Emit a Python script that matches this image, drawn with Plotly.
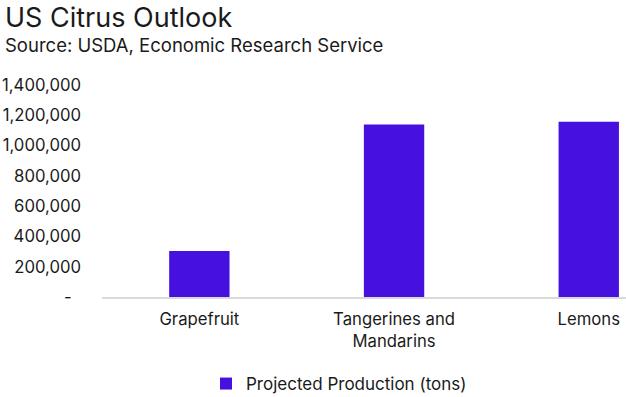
import plotly.graph_objects as go

categories = ["Grapefruit", "Tangerines and<br>Mandarins", "Lemons"]
production = [303000, 1139000, 1157000]
series_name = "Projected Production (tons)"
tick_values = [0, 200000, 400000, 600000, 800000, 1000000, 1200000, 1400000]
tick_labels = ["-\u00a0\u00a0", "200,000", "400,000", "600,000", "800,000",
               "1,000,000", "1,200,000", "1,400,000"]
title_text = "US Citrus Outlook"
subtitle_text = "Source: USDA, Economic Research Service"

FONT = "Inter, 'Liberation Sans', sans-serif"
TXT = "#1a1a1a"
BAR = "#4610de"

L, T, B = 102, 85, 100
PW, PH = 626 - L, 397 - T - B

fig = go.Figure()
fig.add_trace(go.Bar(
    x=[0, 1, 2], y=production, name=series_name,
    marker=dict(color=BAR, line=dict(width=0)),
    width=0.31, showlegend=True,
))

fig.update_layout(
    width=626, height=397,
    margin=dict(l=L, r=0, t=T, b=B, autoexpand=False),
    paper_bgcolor="white", plot_bgcolor="white",
    font=dict(family=FONT, size=16, color=TXT),
    showlegend=True,
    legend=dict(orientation="h", x=(206 - L) / PW, xanchor="left",
                y=-(384 - (T + PH)) / PH, yanchor="middle",
                font=dict(size=17, color=TXT), itemwidth=30, itemsizing="constant"),
    annotations=[
        dict(text=title_text, xref="paper", yref="paper", x=-L / PW, y=1 + T / PH,
             xanchor="left", yanchor="top", showarrow=False, xshift=3, yshift=1,
             font=dict(family=FONT, size=27, color=TXT)),
        dict(text=subtitle_text, xref="paper", yref="paper", x=-L / PW, y=1 + T / PH,
             xanchor="left", yanchor="top", showarrow=False, xshift=3, yshift=-32,
             font=dict(family=FONT, size=18.5, color=TXT)),
    ],
)

fig.update_xaxes(
    range=[-0.5, -0.5 + PW / 194.7], tickvals=[0, 1, 2], ticktext=categories,
    showline=True, linecolor="#d9d9d9", linewidth=1.5, showgrid=False,
    ticks="", zeroline=False, tickfont=dict(size=16.7, color=TXT), automargin=False,
    ticklabelstandoff=6,
)
fig.update_yaxes(
    range=[0, 1400000], tickvals=tick_values, ticktext=tick_labels,
    showline=False, showgrid=False, zeroline=False, ticks="",
    ticklabelstandoff=20, tickfont=dict(size=16.7, color=TXT), automargin=False,
)

fig.write_html("out.html", config={"displayModeBar": False},
               post_script="document.body.style.margin='0';")
